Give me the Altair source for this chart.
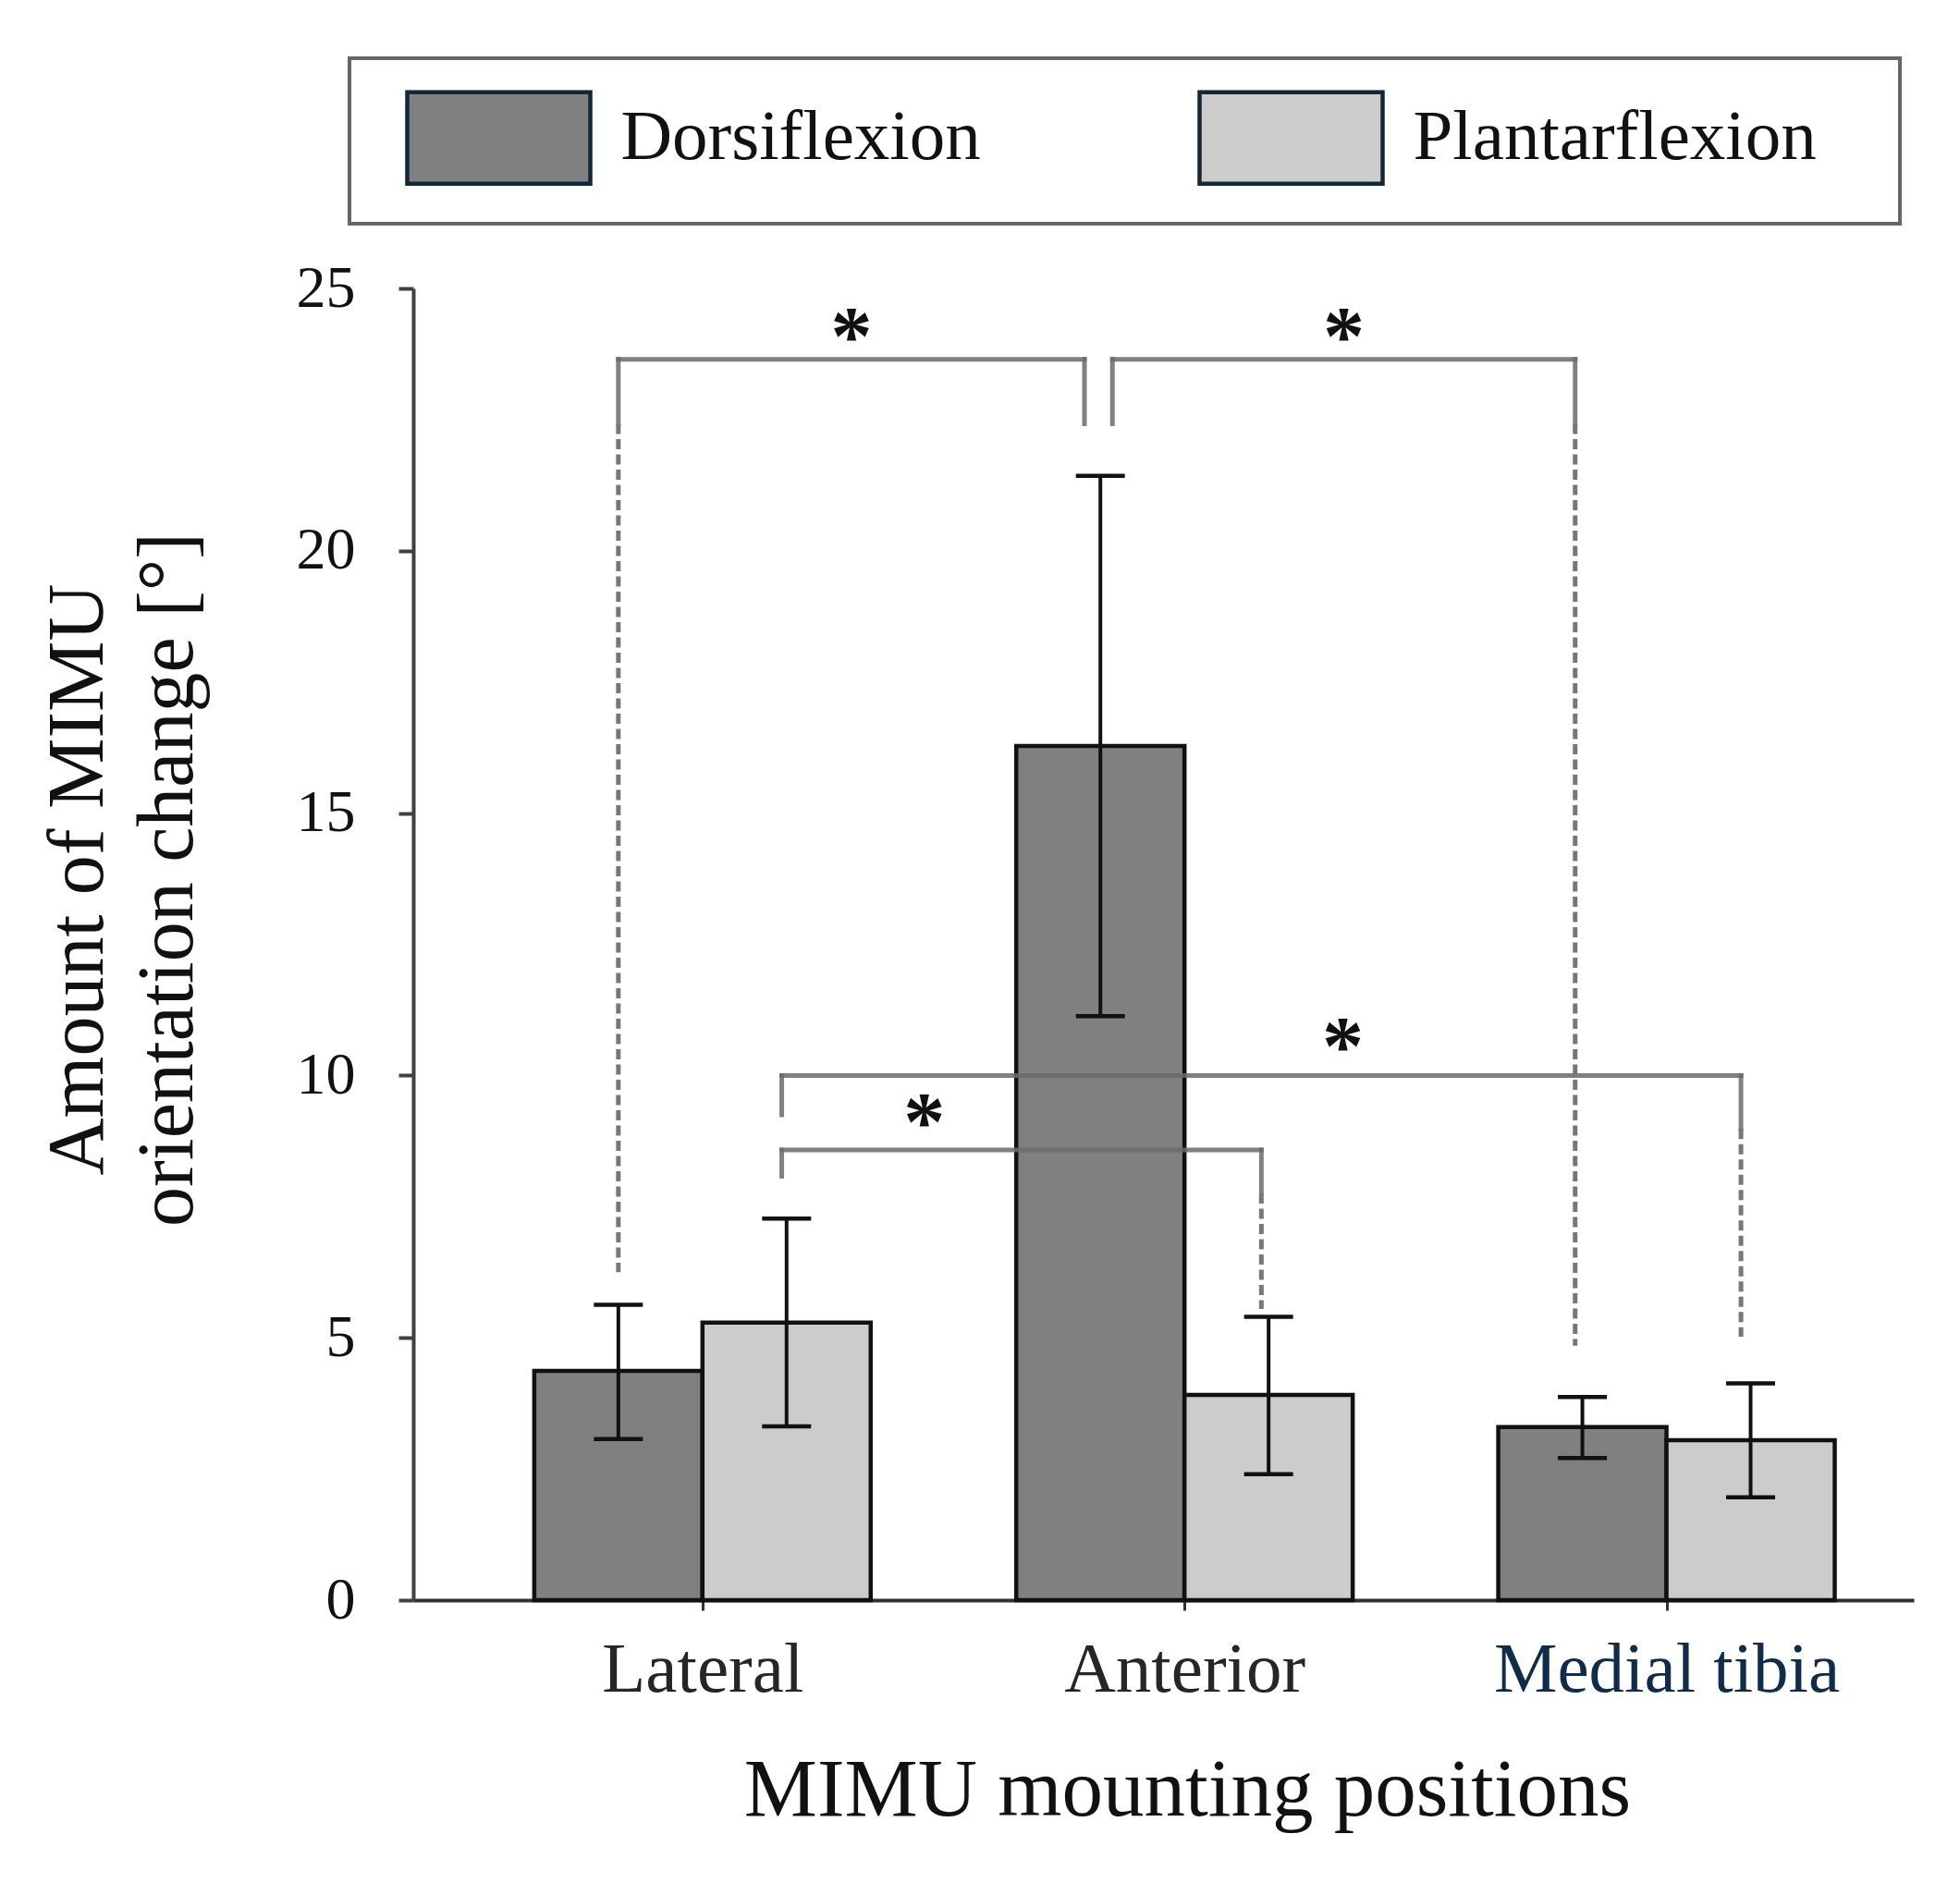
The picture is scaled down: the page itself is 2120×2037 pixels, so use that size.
import altair as alt
import pandas as pd

# ---------------- data ----------------
categories = ["Lateral", "Anterior", "Medial tibia"]
series = ["Dorsiflexion", "Plantarflexion"]

dorsi_mean = [4.37, 16.28, 3.30]
dorsi_hi = [5.63, 21.43, 3.87]
dorsi_lo = [3.07, 11.13, 2.71]

planta_mean = [5.29, 3.91, 3.05]
planta_hi = [7.27, 5.40, 4.13]
planta_lo = [3.31, 2.40, 1.96]

# significance brackets: (category index, series index) of both ends
bracket_from = [(0, 0), (1, 0), (0, 1), (0, 1)]
bracket_to = [(1, 0), (2, 0), (2, 1), (1, 1)]
bracket_level = [23.65, 23.65, 10.0, 8.58]
from_solid_end = [22.42, 22.42, 9.25, 8.08]
to_solid_end = [22.42, 22.42, 8.98, 7.75]
from_dash_end = [6.25, None, None, None]
to_dash_end = [None, 4.85, 5.02, 5.55]
star_level = [24.3, 24.3, 10.76, 9.32]
star_frac = [0.5, 0.5, 0.585, 0.297]
star_text = ["*", "*", "*", "*"]

# ---------------- layout helpers ----------------
BAR_W = 0.349
from_nudge = [0.0, 0.025, -0.01, -0.01]
to_nudge = [-0.033, -0.015, -0.02, -0.015]


def bar_center(ci, si):
    return ci + (si - 0.5) * BAR_W


rows = []
for ci, cat in enumerate(categories):
    for si, s in enumerate(series):
        m = [dorsi_mean, planta_mean][si][ci]
        lo = [dorsi_lo, planta_lo][si][ci]
        hi = [dorsi_hi, planta_hi][si][ci]
        xc = bar_center(ci, si)
        rows.append(dict(category=cat, series=s, mean=m, lo=lo, hi=hi,
                         xc=xc, x0=xc - BAR_W / 2, x1=xc + BAR_W / 2))
bars_df = pd.DataFrame(rows)

solid, dashed, stars = [], [], []
for i in range(len(bracket_level)):
    xa = bar_center(*bracket_from[i]) + from_nudge[i]
    xb = bar_center(*bracket_to[i]) + to_nudge[i]
    yl = bracket_level[i]
    solid.append(dict(x=xa, x2=xb, y=yl, y2=yl))
    solid.append(dict(x=xa, x2=xa, y=yl, y2=from_solid_end[i]))
    solid.append(dict(x=xb, x2=xb, y=yl, y2=to_solid_end[i]))
    if from_dash_end[i] is not None:
        dashed.append(dict(x=xa, x2=xa, y=from_solid_end[i], y2=from_dash_end[i]))
    if to_dash_end[i] is not None:
        dashed.append(dict(x=xb, x2=xb, y=to_solid_end[i], y2=to_dash_end[i]))
    stars.append(dict(x=xa + (xb - xa) * star_frac[i], y=star_level[i], t=star_text[i]))
solid_df = pd.DataFrame(solid)
dashed_df = pd.DataFrame(dashed)
stars_df = pd.DataFrame(stars)

FONT = "Liberation Serif"
W, H = 1623, 1419
xscale = alt.Scale(domain=[-0.6, 2.513], nice=False, zero=False)
yscale = alt.Scale(domain=[0, 25], nice=False, zero=True)

label_expr = "[" + ",".join("'%s'" % c for c in categories) + "][datum.value]"

x_axis = alt.Axis(
    values=[0, 1, 2], labelExpr=label_expr, grid=False,
    tickSize=11, tickWidth=3, tickColor="#333333",
    domainColor="#333333", domainWidth=4,
    labelFont=FONT, labelFontSize=77, labelAngle=0, labelLimit=2000,
    labelColor=alt.ExprRef(expr="datum.value == 2 ? '#0f2c4a' : '#262626'"),
    labelPadding=87, labelBaseline="alphabetic", labelFlush=False, labelOverlap=False,
    title="MIMU mounting positions", titleFont=FONT, titleFontSize=89,
    titleFontWeight="normal", titleColor="#111111", titleLimit=3000,
    titleX=837, titleY=232, titleBaseline="alphabetic", titleAlign="center",
)
y_axis = alt.Axis(
    values=[0, 5, 10, 15, 20, 25], grid=False,
    tickSize=16, tickWidth=4, tickColor="#404040",
    domainColor="#404040", domainWidth=4,
    labelFont=FONT, labelFontSize=64, labelColor="#111111", labelPadding=47,
    title=["Amount of MIMU", "orientation change [°]"], titleFont=FONT,
    titleFontSize=86, titleFontWeight="normal", titleColor="#111111", titleLimit=3000,
    titleAngle=270, titleX=-337, titleY=639, titleBaseline="alphabetic",
    titleAlign="center", titleLineHeight=97,
)

legend = alt.Legend(
    orient="none", legendX=-69, legendY=-249, direction="horizontal", columns=2,
    title=None, symbolType="M-2,-1L2,-1L2,1L-2,1Z", symbolSize=9801,
    symbolStrokeColor="#10283a", symbolStrokeWidth=4.5, symbolOpacity=1,
    symbolOffset=75.5, labelOffset=80, labelFont=FONT, labelFontSize=77,
    labelColor="#111111", labelLimit=2000, columnPadding=152, padding=34,
    labelExpr="datum.label + '\u2800'",
    strokeColor="#666666", fillColor="#ffffff",
)


def X(field):
    return alt.X(field, scale=xscale, axis=x_axis)


def Y(field):
    return alt.Y(field, scale=yscale, axis=y_axis)


bars = alt.Chart(bars_df).mark_bar(stroke="#111111", strokeWidth=4.5, opacity=1).encode(
    x=X("x0:Q"), x2="x1:Q",
    y=Y("mean:Q"), y2=alt.datum(0),
    color=alt.Color("series:N", scale=alt.Scale(domain=series, range=["#808080", "#cccccc"]),
                    legend=legend),
)

solid_lines = alt.Chart(solid_df).mark_rule(
    color="#6b6b6b", opacity=0.86, strokeWidth=5, strokeCap="square"
).encode(x=X("x:Q"), x2="x2:Q", y=Y("y:Q"), y2="y2:Q")

dashed_lines = alt.Chart(dashed_df).mark_rule(
    color="#777777", opacity=1, strokeWidth=5, strokeDash=[11, 5.5]
).encode(x=X("x:Q"), x2="x2:Q", y=Y("y:Q"), y2="y2:Q")

err = alt.Chart(bars_df).mark_rule(color="#111111", strokeWidth=4).encode(
    x=X("xc:Q"), y=Y("lo:Q"), y2="hi:Q",
)
cap_lo = alt.Chart(bars_df).mark_tick(
    color="#111111", orient="horizontal", size=53, thickness=4.5, opacity=1
).encode(x=X("xc:Q"), y=Y("lo:Q"))
cap_hi = alt.Chart(bars_df).mark_tick(
    color="#111111", orient="horizontal", size=53, thickness=4.5, opacity=1
).encode(x=X("xc:Q"), y=Y("hi:Q"))

star_marks = alt.Chart(stars_df).mark_text(
    font=FONT, fontSize=90, fontWeight="bold", color="#111111", baseline="alphabetic", dy=42
).encode(x=X("x:Q"), y=Y("y:Q"), text="t:N")

chart = alt.layer(bars, solid_lines, dashed_lines, err, cap_lo, cap_hi, star_marks).properties(
    width=W, height=H,
    autosize=alt.AutoSizeParams(type="none"),
    padding={"left": 439, "top": 304, "right": 42, "bottom": 298},
).configure(font=FONT).configure_view(strokeWidth=0).configure_legend(strokeWidth=4)

chart.save("out.html", embed_options={"renderer": "svg", "actions": False})
